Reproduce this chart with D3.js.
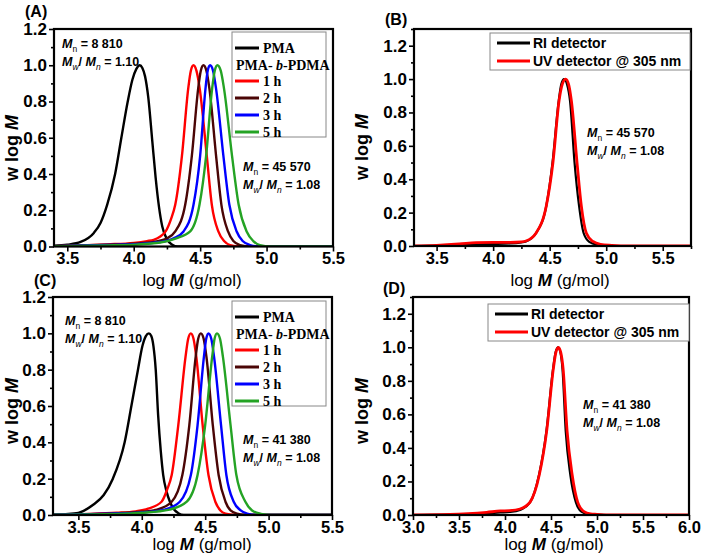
<!DOCTYPE html>
<html><head><meta charset="utf-8">
<script src="https://cdn.jsdelivr.net/npm/d3@7"></script>
<style>html,body{margin:0;padding:0;background:#fff;} svg{display:block;}</style>
</head><body>
<svg id="chart" width="702" height="558"></svg>
<script>
// ---------- DATA (log M, w log M) ----------
// Panel A
const pmaA = [[3.40,0.004],[3.50,0.010],[3.60,0.025],[3.70,0.075],[3.75,0.13],[3.80,0.23],[3.86,0.40],[3.907,0.60],[3.955,0.80],[3.99,0.92],[4.02,0.98],[4.045,1.0],[4.065,0.985],[4.085,0.94],[4.11,0.82],[4.14,0.58],[4.165,0.38],[4.19,0.22],[4.215,0.11],[4.25,0.04],[4.29,0.01],[4.33,0.0],[5.5,0.0]];
const h1A = [[3.40,0.002],[3.60,0.006],[3.80,0.012],[4.00,0.02],[4.10,0.03],[4.15,0.037],[4.20,0.055],[4.24,0.083],[4.28,0.15],[4.3125,0.23],[4.363,0.50],[4.41,0.87],[4.43,0.97],[4.45,1.0],[4.472,0.97],[4.497,0.87],[4.55,0.50],[4.588,0.23],[4.637,0.083],[4.68,0.03],[4.725,0.008],[4.80,0.0],[5.5,0.0]];
const h2A = [[3.40,0.002],[3.80,0.01],[4.00,0.016],[4.15,0.025],[4.25,0.045],[4.3125,0.083],[4.3875,0.23],[4.4375,0.50],[4.485,0.87],[4.505,0.97],[4.525,1.0],[4.547,0.97],[4.57,0.87],[4.62,0.50],[4.66,0.23],[4.71,0.083],[4.75,0.03],[4.80,0.008],[4.88,0.0],[5.5,0.0]];
const h3A = [[3.40,0.002],[3.80,0.008],[4.00,0.013],[4.20,0.025],[4.30,0.045],[4.375,0.083],[4.45,0.23],[4.50,0.50],[4.54,0.87],[4.557,0.97],[4.575,1.0],[4.597,0.97],[4.62,0.87],[4.675,0.50],[4.72,0.23],[4.775,0.083],[4.82,0.03],[4.875,0.008],[4.95,0.0],[5.5,0.0]];
const h5A = [[3.40,0.002],[3.80,0.006],[4.00,0.01],[4.20,0.022],[4.32,0.045],[4.425,0.083],[4.495,0.23],[4.545,0.50],[4.59,0.87],[4.61,0.97],[4.63,1.0],[4.655,0.97],[4.68,0.87],[4.74,0.50],[4.79,0.23],[4.85,0.083],[4.90,0.03],[4.95,0.008],[5.03,0.0],[5.5,0.0]];
// Panel B
const riB = [[3.30,0.0],[3.50,0.002],[3.70,0.006],[3.85,0.01],[4.00,0.012],[4.15,0.015],[4.25,0.022],[4.29,0.027],[4.38,0.078],[4.47,0.24],[4.525,0.50],[4.58,0.87],[4.603,0.97],[4.627,1.0],[4.653,0.97],[4.68,0.87],[4.72,0.50],[4.76,0.24],[4.80,0.078],[4.85,0.025],[4.92,0.008],[5.00,0.003],[5.10,0.0],[5.75,0.0]];
const uvB = [[3.30,0.0],[3.50,0.004],[3.70,0.012],[3.85,0.02],[4.00,0.022],[4.15,0.022],[4.25,0.025],[4.29,0.03],[4.38,0.078],[4.47,0.24],[4.529,0.50],[4.583,0.87],[4.612,0.97],[4.642,1.0],[4.667,0.97],[4.692,0.87],[4.742,0.50],[4.78,0.24],[4.824,0.078],[4.883,0.027],[4.95,0.01],[5.05,0.004],[5.20,0.0],[5.75,0.0]];
// Panel C
const pmaC = [[3.30,0.002],[3.40,0.005],[3.50,0.012],[3.614,0.055],[3.70,0.11],[3.772,0.20],[3.865,0.40],[3.918,0.60],[3.97,0.80],[4.005,0.93],[4.032,0.985],[4.056,1.0],[4.075,0.985],[4.092,0.93],[4.11,0.80],[4.129,0.55],[4.15,0.35],[4.169,0.22],[4.195,0.13],[4.222,0.073],[4.255,0.03],[4.288,0.01],[4.33,0.0],[5.5,0.0]];
const h1C = [[3.30,0.002],[3.60,0.006],[3.80,0.012],[3.95,0.02],[4.05,0.035],[4.156,0.073],[4.20,0.14],[4.236,0.22],[4.288,0.495],[4.345,0.87],[4.366,0.97],[4.387,1.0],[4.408,0.97],[4.43,0.87],[4.48,0.495],[4.526,0.22],[4.58,0.073],[4.62,0.025],[4.66,0.008],[4.75,0.0],[5.5,0.0]];
const h2C = [[3.30,0.002],[3.80,0.01],[4.00,0.018],[4.12,0.03],[4.236,0.073],[4.32,0.22],[4.375,0.495],[4.425,0.87],[4.445,0.97],[4.466,1.0],[4.488,0.97],[4.51,0.87],[4.56,0.495],[4.606,0.22],[4.66,0.073],[4.70,0.025],[4.75,0.008],[4.83,0.0],[5.5,0.0]];
const h3C = [[3.30,0.002],[3.80,0.008],[4.00,0.014],[4.18,0.03],[4.30,0.073],[4.387,0.22],[4.44,0.495],[4.49,0.87],[4.508,0.97],[4.526,1.0],[4.548,0.97],[4.57,0.87],[4.625,0.495],[4.667,0.22],[4.725,0.073],[4.78,0.025],[4.83,0.008],[4.90,0.0],[5.5,0.0]];
const h5C = [[3.30,0.002],[3.80,0.006],[4.00,0.012],[4.22,0.03],[4.355,0.073],[4.44,0.22],[4.50,0.495],[4.555,0.87],[4.574,0.97],[4.593,1.0],[4.617,0.97],[4.64,0.87],[4.70,0.495],[4.746,0.22],[4.817,0.073],[4.87,0.025],[4.94,0.006],[5.02,0.0],[5.5,0.0]];
// Panel D
const riD = [[3.00,0.0],[3.40,0.002],[3.60,0.005],[3.80,0.01],[3.95,0.015],[4.05,0.018],[4.163,0.03],[4.272,0.075],[4.37,0.24],[4.45,0.50],[4.522,0.87],[4.55,0.97],[4.577,1.0],[4.602,0.97],[4.625,0.87],[4.66,0.50],[4.71,0.24],[4.77,0.077],[4.83,0.02],[4.90,0.006],[5.00,0.002],[5.10,0.0],[6.0,0.0]];
const uvD = [[3.00,0.0],[3.40,0.003],[3.60,0.008],[3.80,0.016],[3.95,0.024],[4.05,0.026],[4.163,0.036],[4.272,0.077],[4.373,0.24],[4.453,0.50],[4.525,0.87],[4.553,0.97],[4.58,1.0],[4.606,0.97],[4.632,0.87],[4.675,0.50],[4.73,0.24],[4.79,0.077],[4.86,0.02],[4.93,0.007],[5.00,0.004],[5.10,0.0],[6.0,0.0]];

// Tick values
const xTicksABC = [3.5, 4.0, 4.5, 5.0, 5.5];
const xTicksD = [3.0, 3.5, 4.0, 4.5, 5.0, 5.5, 6.0];
const yTicks = [0.0, 0.2, 0.4, 0.6, 0.8, 1.0, 1.2];

// Labels
const seriesNamesA = ["PMA", "1 h", "2 h", "3 h", "5 h"];
const seriesNamesB = ["RI detector", "UV detector @ 305 nm"];

// ---------- DRAW ----------
const SANS = "'Liberation Sans', Arial, sans-serif";
const SERIF = "'Liberation Serif', 'Times New Roman', serif";
const svg = d3.select('#chart');
const cBlack = '#000000', cRed = '#ff0000', cBrown = '#4a0505', cBlue = '#0000ff', cGreen = '#24a324';

function minorVals(dom, step) {
  const out = [];
  const start = Math.ceil(dom[0] / step - 1e-9);
  for (let i = start; i * step <= dom[1] + 1e-9; i++) out.push(+(i * step).toFixed(3));
  return out;
}

function panel(p) {
  const x = d3.scaleLinear().domain(p.xdom).range([p.left, p.right]);
  const y = d3.scaleLinear().domain(p.ydom).range([p.bottom, p.top]);
  const g = svg.append('g');
  const cid = 'clip' + p.id;
  g.append('clipPath').attr('id', cid).append('rect')
    .attr('x', p.left).attr('y', p.top).attr('width', p.right - p.left).attr('height', p.bottom - p.top);
  const line = d3.line().x(d => x(d[0])).y(d => y(d[1])).curve(d3.curveMonotoneX);
  const cg = g.append('g').attr('clip-path', `url(#${cid})`);
  p.series.forEach(s => {
    cg.append('path').datum(s.data).attr('d', line)
      .attr('fill', 'none').attr('stroke', s.color).attr('stroke-width', s.w || 2.4)
      .attr('stroke-linejoin', 'round');
  });

  const xa = g.append('g').attr('transform', `translate(0,${p.bottom})`)
    .call(d3.axisBottom(x).tickValues(p.xticks).tickFormat(d3.format('.1f')).tickSize(5).tickPadding(1));
  const xm = g.append('g').attr('transform', `translate(0,${p.bottom})`)
    .call(d3.axisBottom(x).tickValues(minorVals(p.xdom, 0.25).filter(v => !p.xticks.some(t => Math.abs(t - v) < 1e-6))).tickFormat('').tickSize(3));
  const ya = g.append('g').attr('transform', `translate(${p.left},0)`)
    .call(d3.axisLeft(y).tickValues(yTicks).tickFormat(d3.format('.1f')).tickSize(5).tickPadding(2));
  const ym = g.append('g').attr('transform', `translate(${p.left},0)`)
    .call(d3.axisLeft(y).tickValues(minorVals(p.ydom, 0.1).filter(v => !yTicks.some(t => Math.abs(t - v) < 1e-6))).tickFormat('').tickSize(3));
  [xa, xm, ya, ym].forEach(a => {
    a.select('.domain').remove();
    a.selectAll('line').attr('stroke', '#000').attr('stroke-width', 1.6);
    a.selectAll('text').attr('font-family', SANS).attr('font-weight', 'bold').attr('font-size', 17).attr('fill', '#000');
  });
  xa.selectAll('text').attr('font-size', 16.5);

  g.append('rect').attr('x', p.left).attr('y', p.top).attr('width', p.right - p.left).attr('height', p.bottom - p.top)
    .attr('fill', 'none').attr('stroke', '#000').attr('stroke-width', 2.2);

  const xt = g.append('text').attr('x', p.xtitle[0]).attr('y', p.xtitle[1]).attr('text-anchor', 'middle')
    .attr('font-family', SANS).attr('font-size', 17).attr('fill', '#000');
  xt.append('tspan').text('log ');
  xt.append('tspan').attr('font-style', 'italic').attr('font-weight', 'bold').text('M');
  xt.append('tspan').text(' (g/mol)');
  const yt = g.append('text').attr('transform', `translate(${p.ytitle[0]},${p.ytitle[1]}) rotate(-90)`)
    .attr('text-anchor', 'middle').attr('font-family', SANS).attr('font-weight', 'bold').attr('font-size', 18).attr('fill', '#000');
  yt.append('tspan').text('w log ');
  yt.append('tspan').attr('font-style', 'italic').text('M');
  g.append('text').attr('x', p.label[0]).attr('y', p.label[1]).attr('font-family', SANS)
    .attr('font-weight', 'bold').attr('font-size', 16).attr('fill', '#000').text('(' + p.id + ')');
  return g;
}

function annotation(x0, y0, mn, ratio) {
  const t1 = svg.append('text').attr('x', x0).attr('y', y0).attr('font-family', SANS)
    .attr('font-weight', 'bold').attr('font-size', 12.5).attr('fill', '#000');
  t1.append('tspan').attr('font-style', 'italic').text('M');
  t1.append('tspan').attr('font-size', 8.5).attr('font-weight', 'normal').attr('dy', 4).text('n');
  t1.append('tspan').attr('dy', -4).text(' = ' + mn);
  const t2 = svg.append('text').attr('x', x0).attr('y', y0 + 18).attr('font-family', SANS)
    .attr('font-weight', 'bold').attr('font-size', 12.5).attr('fill', '#000');
  t2.append('tspan').attr('font-style', 'italic').text('M');
  t2.append('tspan').attr('font-style', 'italic').attr('font-size', 8.5).attr('font-weight', 'normal').attr('dy', 4).text('w');
  t2.append('tspan').attr('dy', -4).text('/ ');
  t2.append('tspan').attr('font-style', 'italic').text('M');
  t2.append('tspan').attr('font-style', 'italic').attr('font-size', 8.5).attr('font-weight', 'normal').attr('dy', 4).text('n');
  t2.append('tspan').attr('dy', -4).text(' = ' + ratio);
}

function legendTime(x0, y0, rows) {
  svg.append('rect').attr('x', x0).attr('y', y0).attr('width', 94).attr('height', 105)
    .attr('fill', '#fff').attr('stroke', '#888').attr('stroke-width', 1);
  const cols = [cBlack, cRed, cBrown, cBlue, cGreen];
  const ys = [16, 33, 49, 66, 83, 100];
  const txt = (x, y) => svg.append('text').attr('x', x).attr('y', y).attr('font-family', SERIF)
    .attr('font-weight', 'bold').attr('font-size', 14).attr('fill', '#000');
  svg.append('line').attr('x1', x0 + 3).attr('x2', x0 + 27).attr('y1', y0 + ys[0]).attr('y2', y0 + ys[0]).attr('stroke', cols[0]).attr('stroke-width', 3);
  txt(x0 + 31, y0 + ys[0] + 5).text(rows[0]);
  const t = txt(x0 + 4, y0 + ys[1] + 5);
  t.append('tspan').text('PMA- ');
  t.append('tspan').attr('font-style', 'italic').text('b');
  t.append('tspan').text('-PDMA');
  for (let i = 1; i < rows.length; i++) {
    const yy = y0 + ys[i + 1];
    svg.append('line').attr('x1', x0 + 3).attr('x2', x0 + 27).attr('y1', yy).attr('y2', yy).attr('stroke', cols[i]).attr('stroke-width', 3);
    txt(x0 + 31, yy + 5).text(rows[i]);
  }
}

function legendDet(x0, y0, w) {
  svg.append('rect').attr('x', x0).attr('y', y0).attr('width', w).attr('height', 37)
    .attr('fill', '#fff').attr('stroke', '#888').attr('stroke-width', 1);
  const cols = [cBlack, cRed];
  [10, 28].forEach((dy, i) => {
    svg.append('line').attr('x1', x0 + 7).attr('x2', x0 + 40).attr('y1', y0 + dy).attr('y2', y0 + dy)
      .attr('stroke', cols[i]).attr('stroke-width', 3);
    svg.append('text').attr('x', x0 + 43).attr('y', y0 + dy + 5).attr('font-family', SANS)
      .attr('font-weight', 'bold').attr('font-size', 14).attr('fill', '#000').text(seriesNamesB[i]);
  });
}

panel({id: 'A', left: 54, right: 333, top: 29, bottom: 246.5, xdom: [3.4, 5.5], ydom: [0, 1.2], xticks: xTicksABC,
  xtitle: [192, 286], ytitle: [18, 148], label: [25, 17],
  series: [{data: pmaA, color: cBlack}, {data: h1A, color: cRed}, {data: h2A, color: cBrown}, {data: h3A, color: cBlue}, {data: h5A, color: cGreen}]});
panel({id: 'B', left: 414, right: 691, top: 29, bottom: 246, xdom: [3.3, 5.75], ydom: [0, 1.3], xticks: xTicksABC,
  xtitle: [560, 286], ytitle: [368, 147], label: [385, 25],
  series: [{data: riB, color: cBlack, w: 2.2}, {data: uvB, color: cRed, w: 2.8}]});
panel({id: 'C', left: 53, right: 332, top: 297, bottom: 515, xdom: [3.3, 5.5], ydom: [0, 1.2], xticks: xTicksABC,
  xtitle: [202, 550], ytitle: [18, 411], label: [34, 286],
  series: [{data: pmaC, color: cBlack}, {data: h1C, color: cRed}, {data: h2C, color: cBrown}, {data: h3C, color: cBlue}, {data: h5C, color: cGreen}]});
panel({id: 'D', left: 413, right: 689, top: 297, bottom: 515, xdom: [3.0, 6.0], ydom: [0, 1.3], xticks: xTicksD,
  xtitle: [554, 550], ytitle: [368, 411], label: [383, 294],
  series: [{data: riD, color: cBlack, w: 2.2}, {data: uvD, color: cRed, w: 2.8}]});

legendTime(232, 32, seriesNamesA);
legendTime(232, 301, seriesNamesA);
legendDet(490, 33, 200);
legendDet(488, 304, 201);

annotation(62, 48, '8 810', '1.10');
annotation(243, 171, '45 570', '1.08');
annotation(587, 137, '45 570', '1.08');
annotation(65, 325, '8 810', '1.10');
annotation(243, 444, '41 380', '1.08');
annotation(583, 409, '41 380', '1.08');
</script>
</body></html>
